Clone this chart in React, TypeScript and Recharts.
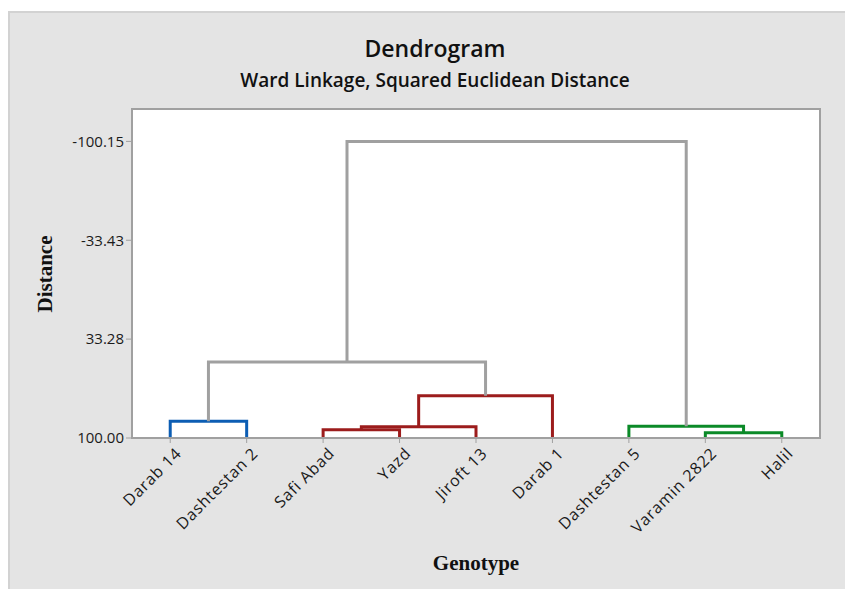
import React from "react";
import { ComposedChart, Line, XAxis, YAxis, ReferenceArea } from "recharts";

const genotypes = ["Darab 14", "Dashtestan 2", "Safi Abad", "Yazd", "Jiroft 13", "Darab 1", "Dashtestan 5", "Varamin 2822", "Halil"];
// merges: node ids 0..8 are leaves, 9+ are clusters in merge order
const mergeLeft = [2, 9, 10, 0, 12, 7, 6, 13];
const mergeRight = [3, 4, 5, 1, 11, 8, 14, 15];
const mergeHeight = [94.4, 92.4, 71.5, 88.7, 48.7, 96.4, 92.1, -100.15];
const mergeColor = ["#9c1c1c", "#9c1c1c", "#9c1c1c", "#0c5db3", "#a0a0a0", "#0b8a28", "#0b8a28", "#a0a0a0"];
const yTicks = [-100.15, -33.43, 33.28, 100.0];
const leafHeight = 100;
const yDomain = [-122, 100];

function buildLinks() {
  const pos: number[] = genotypes.map((_, i) => i);
  const h: number[] = genotypes.map(() => leafHeight);
  const links: { data: { x: number; y: number }[]; color: string }[] = [];
  mergeLeft.forEach((a, k) => {
    const b = mergeRight[k];
    const hh = mergeHeight[k];
    const xa = pos[a];
    const xb = pos[b];
    links.push({
      color: mergeColor[k],
      data: [
        { x: xa, y: h[a] },
        { x: xa, y: hh },
        { x: xb, y: hh },
        { x: xb, y: h[b] },
      ],
    });
    pos.push((xa + xb) / 2);
    h.push(hh);
  });
  return links;
}

const links = buildLinks();
const font = "'Open Sans', sans-serif";

const XTick = (props: any) => {
  const { x, y, payload } = props;
  return (
    <g transform={`translate(${x + 6},${y + 3})`}>
      <text x={0} y={0} dy={9} textAnchor="end" transform="rotate(-45)" fontSize={16} letterSpacing={0.8} fill="#1a1a1a" fontFamily={font}>
        {genotypes[payload.value]}
      </text>
    </g>
  );
};

export default function App() {
  return (
    <div style={{ position: "absolute", left: 0, top: 0, width: 845, height: 589, background: "#fff" }}>
      <div style={{ position: "absolute", left: 8, top: 11, width: 837, height: 578, background: "#e4e4e4", borderLeft: "2px solid #d2d2d2", borderTop: "2px solid #d2d2d2", boxSizing: "border-box" }} />
      <div style={{ position: "absolute", left: 0, width: 870, top: 32, lineHeight: "32px", textAlign: "center", fontFamily: font, fontSize: 23, fontWeight: 600, color: "#111" }}>Dendrogram</div>
      <div style={{ position: "absolute", left: 0, width: 870, top: 66, lineHeight: "28px", textAlign: "center", fontFamily: font, fontSize: 19, fontWeight: 600, color: "#111" }}>Ward Linkage, Squared Euclidean Distance</div>
      <div style={{ position: "absolute", left: 0, top: 0 }}>
        <ComposedChart width={845} height={589} margin={{ top: 109, right: 25, bottom: 51, left: 67 }}>
          <XAxis
            dataKey="x"
            type="number"
            domain={[-0.5, 8.5]}
            ticks={genotypes.map((_, i) => i)}
            allowDataOverflow
            tick={<XTick />}
            tickSize={5}
            tickLine={{ stroke: "#a0a0a0" }}
            axisLine={{ stroke: "#a0a0a0", strokeWidth: 2 }}
            height={100}
            interval={0}
          />
          <YAxis
            type="number"
            reversed
            domain={yDomain}
            ticks={yTicks}
            allowDataOverflow
            tickFormatter={(v: number) => v.toFixed(2)}
            width={65}
            tickSize={6}
            tick={{ fontSize: 15, fill: "#1a1a1a", fontFamily: font }}
            tickLine={{ stroke: "#a0a0a0" }}
            axisLine={{ stroke: "#a0a0a0", strokeWidth: 2 }}
          />
          <ReferenceArea x1={-0.5} x2={8.5} y1={yDomain[0]} y2={yDomain[1]} fill="#ffffff" fillOpacity={1} stroke="#a0a0a0" strokeWidth={2} />
          {links.map((l, i) => (
            <Line
              key={i}
              data={l.data}
              dataKey="y"
              type="linear"
              stroke={l.color}
              strokeWidth={3}
              dot={false}
              activeDot={false}
              isAnimationActive={false}
              strokeLinejoin="miter"
            />
          ))}
        </ComposedChart>
      </div>
      <svg style={{ position: "absolute", left: 0, top: 0, pointerEvents: "none" }} width={845} height={589}>
        <text x={0} y={0} transform="translate(52,274) rotate(-90)" textAnchor="middle" fontFamily="'Liberation Serif', serif" fontWeight={700} fontSize={21} fill="#111">Distance</text>
        <text x={476} y={570} textAnchor="middle" fontFamily="'Liberation Serif', serif" fontWeight={700} fontSize={21} fill="#111">Genotype</text>
      </svg>
    </div>
  );
}
